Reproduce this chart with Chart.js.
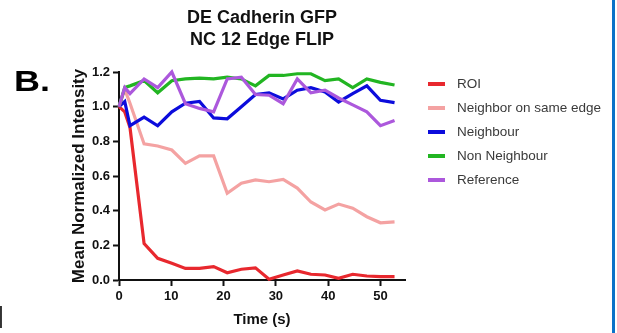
<!DOCTYPE html>
<html>
<head>
<meta charset="utf-8">
<script src="https://cdn.jsdelivr.net/npm/chart.js@4.4.1/dist/chart.umd.min.js"></script>
<style>
  html, body { margin: 0; padding: 0; background: #fff; }
  body { width: 617px; height: 333px; position: relative; overflow: hidden; font-family: "Liberation Sans", Arial, sans-serif; }
  #wrap { position: absolute; left: 0; top: 0; width: 617px; height: 333px; }
  .title { position: absolute; left: 142px; width: 240px; text-align: center; font-weight: bold; font-size: 18px; line-height: 22px; color: #111; }
  .big { position: absolute; left: 14px; top: 66px; font-weight: bold; font-size: 30px; line-height: 30px; color: #000; transform: scaleX(1.2); transform-origin: left top; }
  .brk { position: absolute; left: -3px; top: 302px; font-size: 24px; line-height: 26px; color: #333; }
  .bar { position: absolute; left: 612px; top: 0; width: 3px; height: 333px; background: #0a72c8; }
  .leg { position: absolute; left: 428px; height: 24px; width: 190px; }
  .leg .m { position: absolute; left: 0; top: 10px; width: 17px; height: 4px; }
  .leg .t { position: absolute; left: 29px; top: 0; line-height: 24px; font-size: 13.5px; color: #3a3a3a; white-space: nowrap; }
</style>
</head>
<body>
<div id="wrap"><canvas id="c" width="617" height="333"></canvas></div>
<div class="title" style="top:6px">DE Cadherin GFP<br>NC 12 Edge FLIP</div>
<div class="big">B.</div>
<div class="brk">]</div>
<div class="bar"></div>
<div id="legend"></div>
<script>
const times = [0, 1.1, 2.1, 4.8, 7.4, 10.1, 12.7, 15.4, 18.1, 20.7, 23.4, 26.1, 28.7, 31.4, 34.1, 36.7, 39.4, 42.0, 44.7, 47.4, 50.0, 52.7];
const roi = [1.0, 0.97, 0.88, 0.21, 0.125, 0.096, 0.067, 0.067, 0.077, 0.042, 0.062, 0.07, 0.004, 0.029, 0.052, 0.033, 0.029, 0.01, 0.033, 0.023, 0.019, 0.019];
const neighborSameEdge = [1.0, 1.10, 1.02, 0.785, 0.773, 0.75, 0.673, 0.716, 0.716, 0.50, 0.558, 0.577, 0.567, 0.58, 0.53, 0.45, 0.404, 0.438, 0.414, 0.365, 0.33, 0.335];
const neighbour = [1.0, 1.03, 0.89, 0.94, 0.89, 0.97, 1.02, 1.03, 0.935, 0.93, 1.0, 1.07, 1.08, 1.045, 1.095, 1.11, 1.085, 1.027, 1.075, 1.12, 1.037, 1.023];
const nonNeighbour = [1.0, 1.11, 1.12, 1.15, 1.08, 1.15, 1.16, 1.165, 1.16, 1.17, 1.16, 1.12, 1.18, 1.18, 1.19, 1.19, 1.15, 1.16, 1.11, 1.16, 1.14, 1.125];
const reference = [1.0, 1.11, 1.075, 1.16, 1.11, 1.2, 1.017, 0.99, 0.97, 1.16, 1.17, 1.07, 1.066, 1.017, 1.16, 1.08, 1.095, 1.05, 1.01, 0.97, 0.89, 0.92];
const seriesNames = ["ROI", "Neighbor on same edge", "Neighbour", "Non Neighbour", "Reference"];
const seriesValues = [roi, neighborSameEdge, neighbour, nonNeighbour, reference];
const seriesColors = ["#e8282e", "#f4a2a2", "#0c0cdc", "#22b522", "#ac58dc"];
const drawOrder = [5, 4, 3, 2, 1];
const xTicks = [0, 10, 20, 30, 40, 50];
const yTicks = [0, 0.2, 0.4, 0.6, 0.8, 1.0, 1.2];

const FONT = "'Liberation Sans', Arial, sans-serif";

const datasets = seriesNames.map((name, i) => ({
  label: name,
  data: times.map((t, j) => ({ x: t, y: seriesValues[i][j] })),
  borderColor: seriesColors[i],
  backgroundColor: seriesColors[i],
  borderWidth: 3.2,
  pointRadius: 0,
  tension: 0,
  clip: false,
  order: drawOrder[i]
}));

// HTML legend
const leg = document.getElementById('legend');
seriesNames.forEach((name, i) => {
  const row = document.createElement('div');
  row.className = 'leg';
  row.style.top = (72 + i * 24) + 'px';
  row.innerHTML = '<div class="m" style="background:' + seriesColors[i] + '"></div><div class="t"></div>';
  row.querySelector('.t').textContent = name;
  leg.appendChild(row);
});

new Chart(document.getElementById('c'), {
  type: 'line',
  data: { datasets },
  options: {
    responsive: false,
    devicePixelRatio: 1,
    animation: false,
    layout: { padding: { left: 65, right: 212, top: 72, bottom: 0 } },
    plugins: { legend: { display: false }, title: { display: false }, tooltip: { enabled: false } },
    scales: {
      x: {
        type: 'linear', min: 0, max: 54.7,
        afterBuildTicks: s => { s.ticks = xTicks.map(v => ({ value: v })); },
        afterFit: s => { s.height = 53; },
        ticks: { stepSize: 10, color: '#111', font: { family: FONT, size: 13, weight: 'bold' }, maxRotation: 0, padding: 3 },
        grid: { drawOnChartArea: false, drawTicks: true, tickLength: 6, tickWidth: 2, tickColor: '#111', color: '#111' },
        border: { display: true, width: 2, color: '#111' },
        title: { display: true, text: 'Time (s)', color: '#111', font: { family: FONT, size: 15, weight: 'bold' }, padding: { top: 4, bottom: 4 } }
      },
      y: {
        type: 'linear', min: 0, max: 1.2,
        afterBuildTicks: s => { s.ticks = yTicks.map(v => ({ value: v })); },
        afterFit: s => { s.width = 54; },
        ticks: { color: '#111', font: { family: FONT, size: 13, weight: 'bold' }, padding: 3, callback: v => Number(v).toFixed(1) },
        grid: { drawOnChartArea: false, drawTicks: true, tickLength: 6, tickWidth: 2, tickColor: '#111', color: '#111' },
        border: { display: true, width: 2, color: '#111' },
        title: { display: true, text: 'Mean Normalized Intensity', color: '#111', font: { family: FONT, size: 17, weight: 'bold' }, padding: { top: 4, bottom: 4 } }
      }
    }
  }
});
</script>
</body>
</html>
